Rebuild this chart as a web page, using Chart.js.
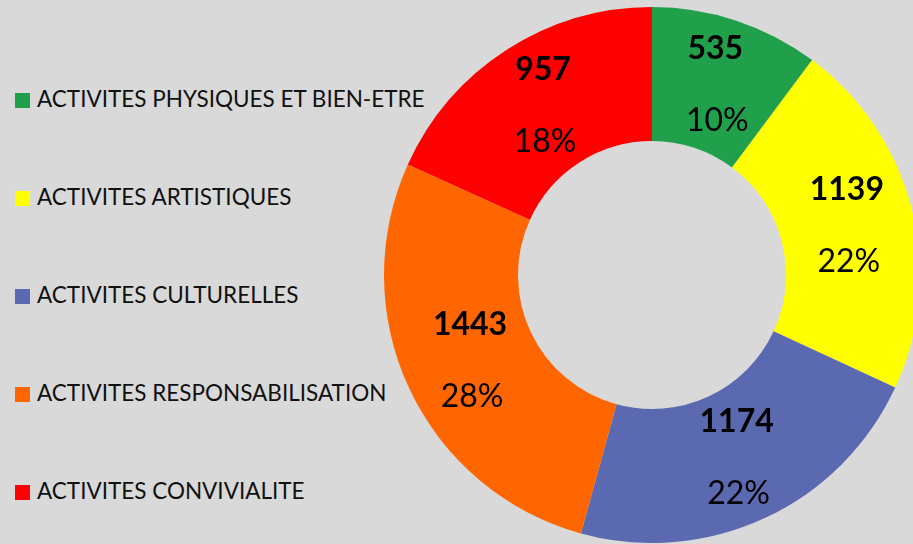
<!DOCTYPE html>
<html>
<head>
<meta charset="utf-8">
<script src="https://cdn.jsdelivr.net/npm/chart.js@4"></script>
<style>
  html, body { margin: 0; padding: 0; }
  body { width: 913px; height: 544px; overflow: hidden; background: #d9d9d9; position: relative; font-family: Lato, sans-serif; }
  #legend { position: absolute; left: 15px; top: 0; margin: 0; padding: 0; list-style: none; }
  #legend li { position: absolute; left: 0; white-space: nowrap; font-size: 22.5px; color: #111; line-height: 24px; }
  #legend span.box { display: inline-block; width: 15px; height: 15px; margin-right: 7px; vertical-align: -1px; }
  #wrap { position: absolute; left: 384px; top: 7px; width: 536px; height: 536px; }
</style>
</head>
<body>
<ul id="legend"></ul>
<div id="wrap"><canvas id="donut" width="536" height="536"></canvas></div>
<script>
// categories and values
const categories = [
  "ACTIVITES PHYSIQUES ET BIEN-ETRE",
  "ACTIVITES ARTISTIQUES",
  "ACTIVITES CULTURELLES",
  "ACTIVITES RESPONSABILISATION",
  "ACTIVITES CONVIVIALITE"
];
const values = [535, 1139, 1174, 1443, 957];
const colors = ["#21a04b", "#ffff00", "#5b69b1", "#ff6600", "#ff0000"];

// legend, one row every 98px
const legend = document.getElementById("legend");
categories.forEach(function (name, i) {
  const li = document.createElement("li");
  li.style.top = (87 + i * 98) + "px";
  li.innerHTML = '<span class="box" style="background:' + colors[i] + '"></span>' + name;
  legend.appendChild(li);
});

// percentages rounded so they add up to 100 (largest remainder)
const total = values.reduce((a, b) => a + b, 0);
const raw = values.map(v => v / total * 100);
const percents = raw.map(Math.floor);
let left = 100 - percents.reduce((a, b) => a + b, 0);
raw.map((r, i) => [r - Math.floor(r), i])
  .sort((a, b) => b[0] - a[0])
  .forEach(function (r) { if (left > 0) { percents[r[1]]++; left--; } });

// value + percent written inside each slice
const sliceLabels = {
  id: "sliceLabels",
  afterDatasetsDraw(chart) {
    const ctx = chart.ctx;
    const meta = chart.getDatasetMeta(0);
    ctx.save();
    ctx.fillStyle = "#000";
    ctx.textAlign = "center";
    ctx.textBaseline = "middle";
    meta.data.forEach(function (arc, i) {
      const p = arc.tooltipPosition();
      ctx.font = "bold 32px Lato";
      ctx.fillText(String(values[i]), p.x, p.y - 36);
      ctx.font = "32px Lato";
      ctx.fillText(percents[i] + "%", p.x + 2, p.y + 36);
    });
    ctx.restore();
  }
};

new Chart(document.getElementById("donut"), {
  type: "doughnut",
  data: {
    labels: categories,
    datasets: [{
      data: values,
      backgroundColor: colors,
      borderWidth: 0
    }]
  },
  options: {
    responsive: false,
    animation: false,
    cutout: "50%",
    layout: { padding: 0 },
    plugins: {
      legend: { display: false },
      tooltip: { enabled: false }
    }
  },
  plugins: [sliceLabels]
});
</script>
</body>
</html>
